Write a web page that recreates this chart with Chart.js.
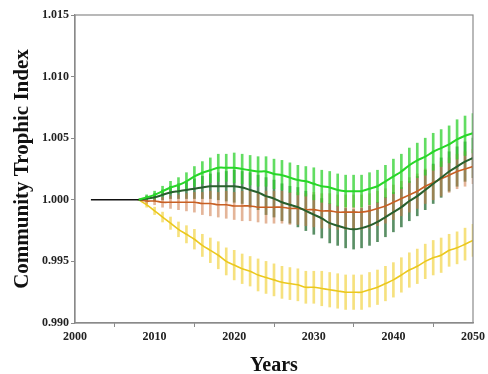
<!DOCTYPE html>
<html>
<head>
<meta charset="utf-8">
<script src="https://cdn.jsdelivr.net/npm/chart.js@4/dist/chart.umd.min.js"></script>
<style>
html,body{margin:0;padding:0;background:#fff;}
#c{display:block;}
</style>
</head>
<body>
<canvas id="c" width="488" height="374"></canvas>
<script>
// ---- data ----
const baseYears = [2002, 2008];
const baseValues = [1.0000, 1.0000];

const years = [2008,2009,2010,2011,2012,2013,2014,2015,2016,2017,2018,2019,2020,2021,2022,2023,2024,2025,2026,2027,2028,2029,2030,2031,2032,2033,2034,2035,2036,2037,2038,2039,2040,2041,2042,2043,2044,2045,2046,2047,2048,2049,2050];

const brightGreen = [1.0000,1.0002,1.0004,1.0007,1.0010,1.0012,1.0015,1.0019,1.0022,1.0024,1.0026,1.0026,1.0026,1.0025,1.0024,1.0023,1.0023,1.0021,1.0020,1.0018,1.0016,1.0015,1.0013,1.0011,1.0010,1.0008,1.0007,1.0007,1.0007,1.0009,1.0011,1.0015,1.0019,1.0023,1.0028,1.0032,1.0035,1.0039,1.0042,1.0045,1.0049,1.0052,1.0054];
const darkGreen = [1.0000,1.0001,1.0002,1.0004,1.0006,1.0007,1.0008,1.0009,1.0010,1.0011,1.0011,1.0011,1.0011,1.0010,1.0008,1.0006,1.0003,1.0001,0.9998,0.9996,0.9994,0.9991,0.9988,0.9985,0.9981,0.9979,0.9977,0.9976,0.9977,0.9979,0.9982,0.9986,0.9990,0.9994,0.9999,1.0003,1.0008,1.0013,1.0018,1.0023,1.0027,1.0031,1.0034];
const orange = [1.0000,0.9999,0.9999,0.9998,0.9998,0.9998,0.9998,0.9998,0.9997,0.9997,0.9996,0.9996,0.9995,0.9995,0.9995,0.9994,0.9994,0.9994,0.9994,0.9993,0.9993,0.9992,0.9992,0.9991,0.9991,0.9990,0.9990,0.9990,0.9990,0.9991,0.9993,0.9995,0.9998,1.0001,1.0004,1.0007,1.0011,1.0014,1.0017,1.0020,1.0023,1.0025,1.0027];
const yellow = [1.0000,0.9996,0.9991,0.9986,0.9981,0.9976,0.9972,0.9968,0.9963,0.9959,0.9955,0.9950,0.9947,0.9944,0.9942,0.9939,0.9937,0.9935,0.9933,0.9932,0.9931,0.9929,0.9929,0.9928,0.9927,0.9926,0.9925,0.9925,0.9925,0.9927,0.9929,0.9932,0.9935,0.9939,0.9943,0.9946,0.9950,0.9953,0.9955,0.9959,0.9961,0.9964,0.9967];

const brightGreenErr = [0,0.0002,0.0003,0.0004,0.0005,0.0006,0.0007,0.0008,0.0009,0.0010,0.0011,0.0011,0.0012,0.0012,0.0012,0.0012,0.0012,0.0012,0.0012,0.0012,0.0012,0.0012,0.0013,0.0013,0.0013,0.0013,0.0013,0.0013,0.0013,0.0013,0.0013,0.0013,0.0014,0.0014,0.0014,0.0014,0.0015,0.0015,0.0015,0.0015,0.0016,0.0016,0.0016];
const darkGreenErr = [0,0.0002,0.0003,0.0004,0.0005,0.0006,0.0007,0.0008,0.0009,0.0010,0.0011,0.0012,0.0013,0.0013,0.0014,0.0014,0.0015,0.0015,0.0015,0.0015,0.0016,0.0016,0.0016,0.0016,0.0016,0.0016,0.0016,0.0016,0.0016,0.0016,0.0016,0.0016,0.0016,0.0016,0.0016,0.0016,0.0016,0.0016,0.0016,0.0016,0.0016,0.0016,0.0016];
const orangeErr = [0,0.0002,0.0003,0.0004,0.0005,0.0006,0.0007,0.0008,0.0009,0.0010,0.0010,0.0011,0.0011,0.0012,0.0012,0.0012,0.0013,0.0013,0.0013,0.0013,0.0013,0.0013,0.0014,0.0014,0.0014,0.0014,0.0014,0.0014,0.0014,0.0014,0.0014,0.0014,0.0014,0.0014,0.0014,0.0014,0.0014,0.0014,0.0014,0.0014,0.0014,0.0014,0.0014];
const yellowErr = [0,0.0002,0.0003,0.0004,0.0005,0.0006,0.0007,0.0008,0.0009,0.0010,0.0011,0.0011,0.0012,0.0012,0.0012,0.0013,0.0013,0.0013,0.0013,0.0013,0.0013,0.0013,0.0013,0.0014,0.0014,0.0014,0.0014,0.0014,0.0014,0.0014,0.0014,0.0014,0.0014,0.0014,0.0014,0.0014,0.0014,0.0014,0.0014,0.0013,0.0013,0.0013,0.0013];

const xTicks = [2000, 2010, 2020, 2030, 2040, 2050];
const yTicks = [0.990, 0.995, 1.000, 1.005, 1.010, 1.015];

// ---- helpers ----
const pts = (xs, vs) => xs.map((x, i) => ({x: x, y: vs[i]}));
const bars = (vs, es) => years.map((x, i) => ({x: x, y: [vs[i] - es[i], vs[i] + es[i]]}));

const serif = '"Liberation Serif", "Times New Roman", serif';

const framePlugin = {
  id: 'frame',
  afterDatasetsDraw(chart) {
    const {ctx, chartArea: a} = chart;
    ctx.save();
    ctx.strokeStyle = '#8a8a8a';
    ctx.lineWidth = 1.2;
    ctx.strokeRect(a.left, a.top, a.right - a.left, a.bottom - a.top);
    ctx.restore();
  }
};

const barDs = (data, color, order) => ({
  type: 'bar', data: data, backgroundColor: color, borderWidth: 0,
  barThickness: 2, grouped: false, order: order
});
const lineDs = (data, color, w, order) => ({
  type: 'line', data: data, borderColor: color, borderWidth: w,
  pointRadius: 0, tension: 0.3, fill: false, order: order
});

new Chart(document.getElementById('c'), {
  type: 'line',
  data: {
    datasets: [
      lineDs(pts(baseYears, baseValues), '#111111', 1.5, 0),
      lineDs(pts(years, brightGreen), 'rgb(40,215,40)', 2, 1),
      lineDs(pts(years, darkGreen), 'rgb(40,95,45)', 2, 2),
      lineDs(pts(years, orange), 'rgb(200,95,35)', 1.6, 3),
      lineDs(pts(years, yellow), 'rgb(235,200,30)', 1.6, 4),
      barDs(bars(brightGreen, brightGreenErr), 'rgba(45,210,45,0.75)', 5),
      barDs(bars(darkGreen, darkGreenErr), 'rgba(35,105,50,0.75)', 7),
      barDs(bars(orange, orangeErr), 'rgba(205,120,70,0.55)', 6),
      barDs(bars(yellow, yellowErr), 'rgba(240,205,40,0.6)', 8)
    ]
  },
  options: {
    responsive: false,
    animation: false,
    devicePixelRatio: 1,
    layout: {padding: {left: 0, right: 12, top: 15, bottom: 0}},
    plugins: {legend: {display: false}, tooltip: {enabled: false}},
    scales: {
      x: {
        type: 'linear', min: 2000, max: 2050, offset: false,
        afterBuildTicks: s => { s.ticks = xTicks.map(v => ({value: v})); },
        afterFit: s => { s.height = 51; },
        grid: {display: true, drawOnChartArea: false, drawTicks: true, tickLength: 4, color: '#8a8a8a'},
        border: {display: true, color: '#8a8a8a', width: 1.2},
        ticks: {
          padding: 3, color: '#222', maxRotation: 0, autoSkip: false,
          font: {family: serif, size: 12, weight: 'bold'},
          callback: v => String(v)
        },
        title: {
          display: true, text: 'Years', color: '#111',
          font: {family: serif, size: 20, weight: 'bold', lineHeight: 0.8},
          padding: {top: 0, bottom: 0}
        }
      },
      y: {
        type: 'linear', min: 0.990, max: 1.015,
        afterBuildTicks: s => { s.ticks = yTicks.map(v => ({value: v})); },
        afterFit: s => { s.width = 75; },
        grid: {display: true, drawOnChartArea: false, drawTicks: true, tickLength: 4, color: '#8a8a8a'},
        border: {display: true, color: '#8a8a8a', width: 1.2},
        ticks: {
          padding: 2, color: '#222', autoSkip: false,
          font: {family: serif, size: 12, weight: 'bold'},
          callback: v => Number(v).toFixed(3)
        },
        title: {
          display: true, text: 'Community Trophic Index', color: '#111',
          font: {family: serif, size: 21, weight: 'bold', lineHeight: 1},
          padding: {top: 12, bottom: 0}
        }
      }
    }
  },
  plugins: [framePlugin]
});
</script>
</body>
</html>
